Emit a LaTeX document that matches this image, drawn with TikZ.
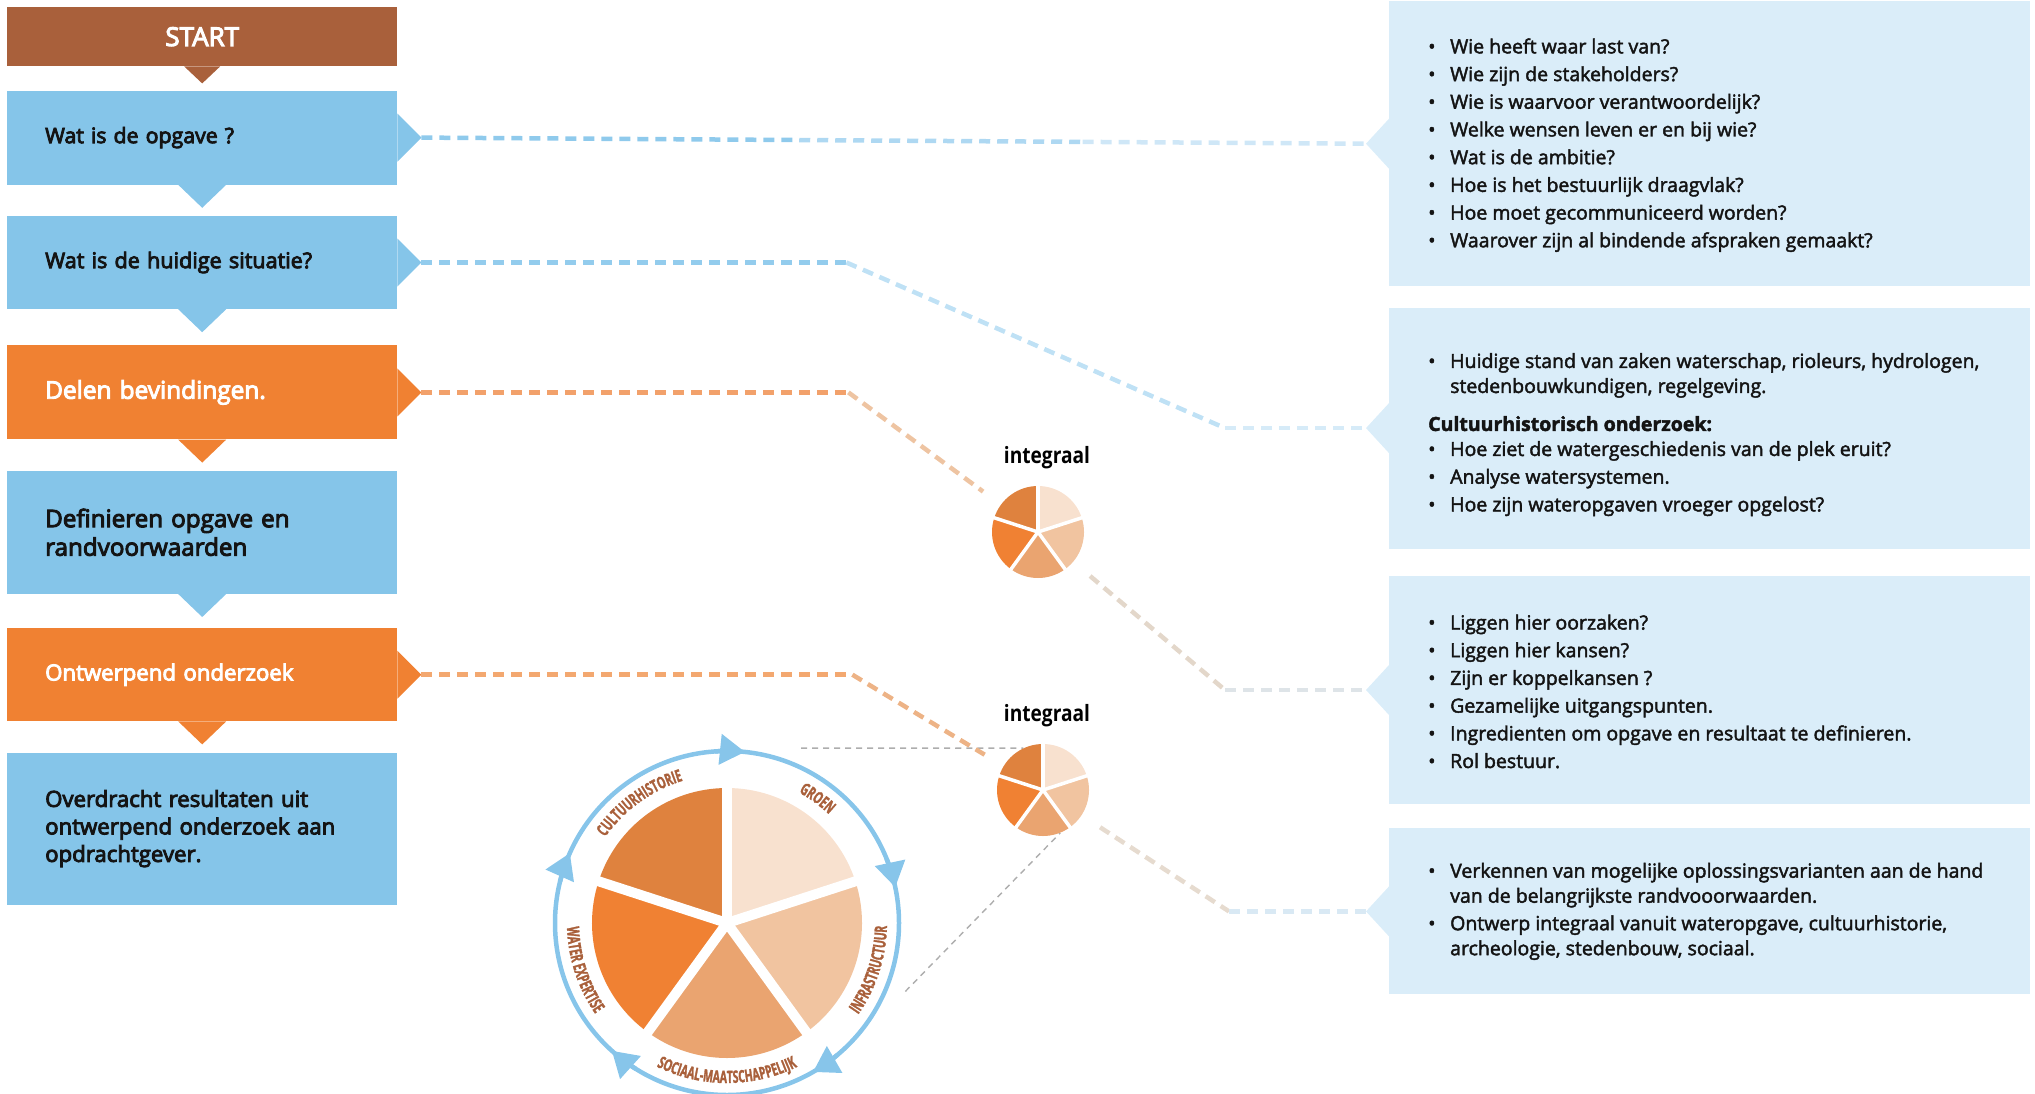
\documentclass[tikz,border=0pt]{standalone}
\usepackage{fontspec}
\setmainfont{Open Sans}
\newfontfamily\stepfont{Open Sans}[FakeBold=4]
\newfontfamily\notefont{Open Sans}[FakeBold=2.2]
\newfontfamily\tagfont{Open Sans}[FakeStretch=0.85]
\newfontfamily\ringfont{Open Sans}[FakeStretch=0.62, FakeBold=1.5]
\usetikzlibrary{arrows.meta, positioning, calc, decorations.text}

\definecolor{startbrown}{HTML}{A9603B}
\definecolor{stepblue}{HTML}{85C5E9}
\definecolor{steporange}{HTML}{F08132}
\definecolor{notebg}{HTML}{DAEDF9}
\definecolor{textdark}{HTML}{141414}
\definecolor{ringblue}{HTML}{87C5EA}
\definecolor{labelbrown}{HTML}{A9603B}
\definecolor{zoomgray}{HTML}{ADADAD}
\definecolor{pieA}{HTML}{F8E1CF}
\definecolor{pieB}{HTML}{F1C4A0}
\definecolor{pieC}{HTML}{EAA470}
\definecolor{pieD}{HTML}{F08133}
\definecolor{pieE}{HTML}{DF823E}
\definecolor{linkA1}{HTML}{8FCAEC}
\definecolor{linkA2}{HTML}{AED8F2}
\definecolor{linkA3}{HTML}{CFE7F7}
\definecolor{linkB1}{HTML}{93CCED}
\definecolor{linkB2}{HTML}{BFE1F5}
\definecolor{linkB3}{HTML}{D6EBF8}
\definecolor{linkC1}{HTML}{F2A16B}
\definecolor{linkC2}{HTML}{EEC4A2}
\definecolor{linkC3}{HTML}{E3D7CA}
\definecolor{linkC4}{HTML}{DEE4E8}
\definecolor{linkD1}{HTML}{F3A870}
\definecolor{linkD2}{HTML}{EDB386}
\definecolor{linkD3}{HTML}{E6DBCF}
\definecolor{linkD4}{HTML}{D9E9F4}

\tikzset{
    startbox/.style={
        rectangle, fill=startbrown,
        minimum width=390pt, minimum height=59pt, inner sep=0pt,
        text=white, font=\stepfont\fontsize{26}{30}\selectfont
    },
    stepbox/.style={
        rectangle, fill=stepblue,
        minimum width=390pt, text width=314pt,
        inner xsep=38pt, inner ysep=0pt, align=left,
        text=textdark, font=\stepfont\fontsize{22.2}{27.5}\selectfont
    },
    actbox/.style={stepbox, fill=steporange, text=white},
    notebox/.style={rectangle, fill=notebg, minimum width=641pt, inner sep=0pt},
    notetext/.style={
        align=left, inner sep=0pt, text=textdark,
        font=\notefont\fontsize{19.5}{25}\selectfont
    },
    pienode/.style={circle, minimum size=92pt, inner sep=0pt},
    tagtitle/.style={inner sep=0pt, font=\tagfont\bfseries\fontsize{22.5}{22.5}\selectfont},
    link/.style={line width=4.5pt, dash pattern=on 11pt off 7pt},
    zoomline/.style={draw=zoomgray, line width=1.4pt, dash pattern=on 6pt off 5pt},
    ringline/.style={draw=ringblue, line width=4.5pt}
}

\newcommand{\bitem}{\makebox[22pt][l]{\textbullet}}
\newcommand{\bcont}{\hspace*{22pt}}
\newcommand{\ringtext}{\ringfont\bfseries\fontsize{17}{17}\selectfont\color{labelbrown}}
\newcommand{\drawpie}[3]{%
    \foreach \a/\col in {18/pieA,-54/pieB,-126/pieC,162/pieD,90/pieE}
        {\fill[\col] (#1.center) -- ++(\a:#2) arc[start angle=\a, delta angle=72, radius=#2] -- cycle;}
    \foreach \a in {90,18,-54,-126,162}
        {\draw[white, line width=#3, shorten >=-3pt] (#1.center) -- ++(\a:#2);}
}

\begin{document}
\begin{tikzpicture}[x=1pt, y=1pt]
\useasboundingbox (0,0) rectangle (2035,-1093);

% Steps (left column)
\node[startbox, anchor=north west] (start) at (7,-7) {START};
\node[stepbox, minimum height=94pt, below=24pt of start,
      font=\stepfont\fontsize{21.3}{27.5}\selectfont] (q1) {Wat is de opgave ?};
\node[stepbox, minimum height=93pt, below=31pt of q1,
      font=\stepfont\fontsize{21.6}{27.5}\selectfont] (q2) {Wat is de huidige situatie?};
\node[actbox, minimum height=94pt, below=36pt of q2,
      font=\stepfont\fontsize{24.4}{28}\selectfont] (q3) {Delen bevindingen.};
\node[stepbox, minimum height=123pt, below=31pt of q3,
      font=\stepfont\fontsize{24.2}{28.5}\selectfont] (q4) {Definieren opgave en\\randvoorwaarden};
\node[actbox, minimum height=93pt, below=34pt of q4] (q5) {Ontwerpend onderzoek};
\node[stepbox, minimum height=152pt, below=31pt of q5] (q6) {Overdracht resultaten uit\\ontwerpend onderzoek aan\\opdrachtgever.};

% Pointers under the steps
\fill[startbrown] (start.south) ++(-18,0) -- ++(36,0) -- ++(-18,-17) -- cycle;
\foreach \n/\c in {q1/stepblue, q2/stepblue, q3/steporange, q4/stepblue, q5/steporange}
    \fill[\c] (\n.south) ++(-24,0) -- ++(48,0) -- ++(-24,-23) -- cycle;

% Pointers to the right
\foreach \n/\c in {q1/stepblue, q2/stepblue, q3/steporange, q5/steporange} {
    \fill[\c] (\n.east) ++(0,24) -- ++(24,-24) -- ++(-24,-24) -- cycle;
    \coordinate (\n-tip) at ([xshift=24pt]\n.east);
}

% Notes (right column)
\node[notebox, minimum height=285pt, anchor=north west] (n1) at (1389,-1) {};
\node[notebox, minimum height=241pt, below=21pt of n1] (n2) {};
\node[notebox, minimum height=228pt, below=27pt of n2] (n3) {};
\node[notebox, minimum height=166pt, below=24pt of n3] (n4) {};
\foreach \n in {n1,n2,n3,n4} {
    \fill[notebg] (\n.west) ++(0,25) -- ++(-23,-25) -- ++(23,-25) -- cycle;
    \coordinate (\n-tip) at ([xshift=-23pt]\n.west);
}

\node[notetext, anchor=west] (t1) at ([xshift=39pt, yshift=-1.5pt]n1.west) {%
\bitem Wie heeft waar last van?\\[2.7pt]
\bitem Wie zijn de stakeholders?\\[2.7pt]
\bitem Wie is waarvoor verantwoordelijk?\\[2.7pt]
\bitem Welke wensen leven er en bij wie?\\[2.7pt]
\bitem Wat is de ambitie?\\[2.7pt]
\bitem Hoe is het bestuurlijk draagvlak?\\[2.7pt]
\bitem Hoe moet gecommuniceerd worden?\\[2.7pt]
\bitem Waarover zijn al bindende afspraken gemaakt?};

\node[notetext, anchor=west] (t2) at ([xshift=39pt, yshift=-6.5pt]n2.west) {%
\bitem Huidige stand van zaken waterschap, rioleurs, hydrologen,\\
\bcont stedenbouwkundigen, regelgeving.\\[13pt]
{\bfseries Cultuurhistorisch onderzoek:}\\
\bitem Hoe ziet de watergeschiedenis van de plek eruit?\\[2.7pt]
\bitem Analyse watersystemen.\\[2.7pt]
\bitem Hoe zijn wateropgaven vroeger opgelost?};

\node[notetext, anchor=west] (t3) at ([xshift=39pt, yshift=-1.5pt]n3.west) {%
\bitem Liggen hier oorzaken?\\[2.7pt]
\bitem Liggen hier kansen?\\[2.7pt]
\bitem Zijn er koppelkansen ?\\[2.7pt]
\bitem Gezamelijke uitgangspunten.\\[2.7pt]
\bitem Ingredienten om opgave en resultaat te definieren.\\[2.7pt]
\bitem Rol bestuur.};

\node[notetext, anchor=west] (t4) at ([xshift=39pt]n4.west) {%
\bitem Verkennen van mogelijke oplossingsvarianten aan de hand\\
\bcont van de belangrijkste randvooorwaarden.\\[2.5pt]
\bitem Ontwerp integraal vanuit wateropgave, cultuurhistorie,\\
\bcont archeologie, stedenbouw, sociaal.};

% Integraal pies
\node[pienode] (pie1) at (1038,-532) {};
\node[tagtitle, above=17pt of pie1, xshift=9pt] (tag1) {integraal};
\node[pienode] (pie2) at (1043,-790) {};
\node[tagtitle, above=17pt of pie2, xshift=4pt] (tag2) {integraal};

% Big wheel
\node[circle, ringline, minimum size=344pt, inner sep=0pt] (wheel) at (727,-923) {};

% Zoom lines wheel -> pie
\coordinate (zoomA) at ($(wheel.center)+(67:190)$);
\coordinate (zoomB) at ($(wheel.center)+(-21:191)$);
\draw[zoomline] (zoomA) -- (pie2.115);
\draw[zoomline] (zoomB) -- (pie2.-68);

% Dashed links
\coordinate (m1a) at ($(q1-tip)!0.4!(n1-tip)$);
\coordinate (m1b) at ($(q1-tip)!0.7!(n1-tip)$);
\draw[link, draw=linkA1] (q1-tip) -- (m1a);
\draw[link, draw=linkA2] (m1a) -- (m1b);
\draw[link, draw=linkA3] (m1b) -- (n1-tip);

\coordinate (b2a) at ([xshift=425pt]q2-tip);
\coordinate (b2b) at ([xshift=-141pt]n2-tip);
\draw[link, draw=linkB1] (q2-tip) -- (b2a);
\draw[link, draw=linkB2] (b2a) -- (b2b);
\draw[link, draw=linkB3] (b2b) -- (n2-tip);

\coordinate (b3a) at ([xshift=427pt]q3-tip);
\coordinate (b3b) at ([xshift=-141pt]n3-tip);
\draw[link, draw=linkC1] (q3-tip) -- (b3a);
\draw[link, draw=linkC2, shorten >=22pt] (b3a) -- (pie1);
\draw[link, draw=linkC3, shorten <=22pt] (pie1) -- (b3b);
\draw[link, draw=linkC4] (b3b) -- (n3-tip);

\coordinate (b5a) at ([xshift=431pt]q5-tip);
\coordinate (b5b) at ([xshift=-137pt]n4-tip);
\draw[link, draw=linkD1] (q5-tip) -- (b5a);
\draw[link, draw=linkD2, shorten >=22pt] (b5a) -- (pie2);
\draw[link, draw=linkD3, shorten <=22pt] (pie2) -- (b5b);
\draw[link, draw=linkD4] (b5b) -- (n4-tip);

% Pies
\drawpie{pie1}{46}{3.5pt}
\drawpie{pie2}{46}{3.5pt}
\drawpie{wheel}{135}{10pt}

% Ring arrows
\foreach \a in {90,18,-54,-126,162}
    \draw[ringline, -{Triangle[length=25pt, width=30pt]}] ($(wheel.center)+(\a+4:172)$) arc[start angle=\a+4, end angle=\a-6, radius=172];

% Ring labels
\path[decorate, decoration={text along path, text align=center, text={|\ringtext|CULTUURHISTORIE}}]
    ($(wheel.center)+(162:149)$) arc[start angle=162, end angle=90, radius=149];
\path[decorate, decoration={text along path, text align=center, text={|\ringtext|GROEN}}]
    ($(wheel.center)+(90:149)$) arc[start angle=90, end angle=18, radius=149];
\path[decorate, decoration={text along path, text align=center, text={|\ringtext|INFRASTRUCTUUR}}]
    ($(wheel.center)+(-54:160)$) arc[start angle=-54, end angle=18, radius=160];
\path[decorate, decoration={text along path, text align=center, text={|\ringtext|SOCIAAL-MAATSCHAPPELIJK}}]
    ($(wheel.center)+(-126:160)$) arc[start angle=-126, end angle=-54, radius=160];
\path[decorate, decoration={text along path, text align=center, text={|\ringtext|WATER EXPERTISE}}]
    ($(wheel.center)+(162:160)$) arc[start angle=162, end angle=234, radius=160];

\end{tikzpicture}
\end{document}
